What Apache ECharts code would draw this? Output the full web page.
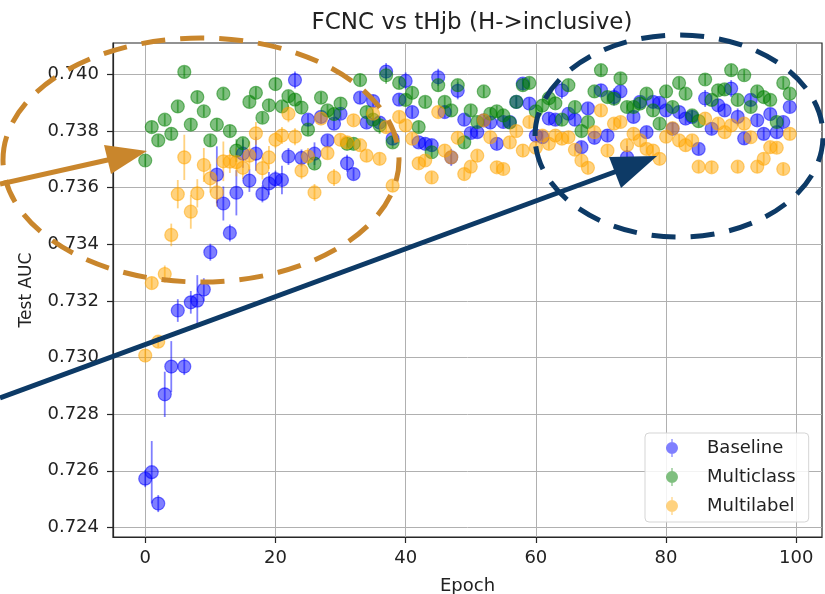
<!DOCTYPE html>
<html>
<head>
<meta charset="utf-8">
<script src="https://cdn.jsdelivr.net/npm/echarts@6/dist/echarts.min.js"></script>
<style>
html,body{margin:0;padding:0;background:#fff;}
#chart{width:825px;height:594px;}
</style>
</head>
<body>
<div id="chart"></div>
<script>
const titleText = 'FCNC vs tHjb (H->inclusive)';
const seriesNames = ['Baseline', 'Multiclass', 'Multilabel'];
const xTicks = [0, 20, 40, 60, 80, 100];
const yTicks = [0.724, 0.726, 0.728, 0.730, 0.732, 0.734, 0.736, 0.738, 0.740];
const epochs = Array.from({length: 100}, (_, i) => i);

const baseline = [
0.72572,0.72595,0.72484,0.72870,0.72968,0.73166,0.72968,0.73195,0.73201,0.73240,
0.73372,0.73646,0.73544,0.73440,0.73582,0.73720,0.73625,0.73720,0.73578,0.73615,
0.73630,0.73627,0.73710,0.73980,0.73705,0.73840,0.73720,0.73850,0.73767,0.73826,
0.73861,0.73686,0.73648,0.73918,0.73830,0.73906,0.73830,0.74010,0.73773,0.73911,
0.73977,0.73867,0.73760,0.73755,0.73750,0.73990,0.73867,0.73707,0.73942,0.73840,
0.73793,0.73796,0.73838,0.73830,0.73755,0.73832,0.73832,0.73903,0.73968,0.73897,
0.73784,0.73778,0.73844,0.73840,0.73944,0.73861,0.73840,0.73743,0.73880,0.73776,
0.73944,0.73784,0.73920,0.73940,0.73707,0.73850,0.73903,0.73796,0.73903,0.73900,
0.73873,0.73808,0.73867,0.73844,0.73850,0.73737,0.73915,0.73808,0.73891,0.73873,
0.73950,0.73850,0.73774,0.73910,0.73838,0.73790,0.73860,0.73796,0.73832,0.73885];
const baselineErr = [
0.0003,0.0011,0.0003,0.0008,0.0009,0.0004,0.0003,0.0004,0.0009,0.0004,
0.0003,0.0010,0.0006,0.0003,0.0008,0.0005,0.0004,0.0006,0.0003,0.0004,
0.0003,0.0005,0.0003,0.0003,0.0003,0.0002,0.0004,0.0002,0.0002,0.0002,
0.0002,0.0003,0.0002,0.0002,0.0002,0.0002,0.0002,0.0003,0.0002,0.0002,
0.0003,0.0002,0.0002,0.0002,0.0002,0.0003,0.0002,0.0003,0.0003,0.0002,
0.0002,0.0002,0.0002,0.0002,0.0002,0.0002,0.0002,0.0002,0.0002,0.0002,
0.0002,0.0002,0.0002,0.0002,0.0003,0.0002,0.0002,0.0002,0.0002,0.0002,
0.0002,0.0002,0.0003,0.0002,0.0004,0.0002,0.0002,0.0002,0.0002,0.0002,
0.0002,0.0002,0.0002,0.0002,0.0002,0.0002,0.0003,0.0002,0.0002,0.0002,
0.0003,0.0003,0.0002,0.0002,0.0002,0.0002,0.0002,0.0002,0.0002,0.0002];

const multiclass = [
0.73696,0.73814,0.73767,0.73840,0.73790,0.73887,0.74009,0.73823,0.73920,0.73870,
0.73767,0.73823,0.73932,0.73800,0.73731,0.73757,0.73903,0.73935,0.73847,0.73891,
0.73966,0.73887,0.73923,0.73911,0.73883,0.73805,0.73685,0.73918,0.73873,0.73860,
0.73897,0.73755,0.73755,0.73980,0.73867,0.73840,0.73820,0.73997,0.73760,0.73970,
0.73910,0.73935,0.73814,0.73903,0.73725,0.73962,0.73903,0.73873,0.73962,0.73760,
0.73873,0.73832,0.73940,0.73861,0.73870,0.73855,0.73830,0.73903,0.73962,0.73970,
0.73870,0.73890,0.73916,0.73898,0.73840,0.73962,0.73885,0.73800,0.73832,0.73940,
0.74015,0.73920,0.73914,0.73986,0.73885,0.73885,0.73897,0.73932,0.73873,0.73826,
0.73940,0.73885,0.73970,0.73932,0.73855,0.73835,0.73982,0.73910,0.73944,0.73947,
0.74015,0.73910,0.73997,0.73885,0.73940,0.73920,0.73910,0.73832,0.73970,0.73932];
const multiclassErr = [
0.0002,0.0002,0.0002,0.0002,0.0002,0.0002,0.0002,0.0002,0.0002,0.0002,
0.0002,0.0002,0.0002,0.0002,0.0004,0.0002,0.0002,0.0002,0.0002,0.0002,
0.0002,0.0002,0.0002,0.0002,0.0002,0.0002,0.0002,0.0002,0.0002,0.0002,
0.0002,0.0002,0.0002,0.0002,0.0002,0.0002,0.0003,0.0003,0.0002,0.0002,
0.0002,0.0002,0.0002,0.0002,0.0002,0.0002,0.0002,0.0002,0.0002,0.0002,
0.0002,0.0002,0.0002,0.0002,0.0002,0.0002,0.0002,0.0002,0.0002,0.0002,
0.0002,0.0002,0.0002,0.0002,0.0002,0.0002,0.0002,0.0002,0.0002,0.0002,
0.0002,0.0002,0.0002,0.0002,0.0002,0.0002,0.0002,0.0002,0.0002,0.0002,
0.0002,0.0002,0.0002,0.0002,0.0002,0.0002,0.0002,0.0002,0.0002,0.0002,
0.0002,0.0002,0.0002,0.0002,0.0002,0.0002,0.0002,0.0002,0.0002,0.0002];

const multilabel = [
0.73007,0.73263,0.73056,0.73295,0.73433,0.73577,0.73707,0.73515,0.73580,0.73680,
0.73633,0.73583,0.73693,0.73692,0.73690,0.73670,0.73713,0.73792,0.73669,0.73707,
0.73769,0.73784,0.73861,0.73780,0.73660,0.73710,0.73583,0.73844,0.73722,0.73636,
0.73769,0.73760,0.73838,0.73750,0.73713,0.73861,0.73702,0.73814,0.73607,0.73850,
0.73820,0.73773,0.73686,0.73696,0.73636,0.73867,0.73731,0.73707,0.73776,0.73648,
0.73674,0.73713,0.73838,0.73778,0.73672,0.73666,0.73760,0.73800,0.73731,0.73832,
0.73741,0.73784,0.73755,0.73784,0.73773,0.73778,0.73734,0.73696,0.73670,0.73796,
0.73873,0.73731,0.73826,0.73832,0.73750,0.73790,0.73767,0.73737,0.73731,0.73702,
0.73780,0.73810,0.73767,0.73750,0.73767,0.73674,0.73844,0.73672,0.73826,0.73796,
0.73820,0.73674,0.73826,0.73778,0.73674,0.73702,0.73743,0.73741,0.73666,0.73790];
const multilabelErr = [
0.0002,0.0002,0.0002,0.0003,0.0004,0.0005,0.0008,0.0006,0.0005,0.0006,
0.0005,0.0005,0.0007,0.0004,0.0005,0.0004,0.0005,0.0004,0.0004,0.0004,
0.0003,0.0003,0.0003,0.0003,0.0003,0.0003,0.0003,0.0002,0.0002,0.0003,
0.0002,0.0002,0.0002,0.0002,0.0002,0.0002,0.0002,0.0002,0.0002,0.0002,
0.0002,0.0002,0.0002,0.0002,0.0002,0.0002,0.0002,0.0002,0.0002,0.0002,
0.0002,0.0002,0.0002,0.0002,0.0002,0.0002,0.0002,0.0002,0.0002,0.0002,
0.0002,0.0002,0.0002,0.0002,0.0002,0.0002,0.0002,0.0002,0.0002,0.0002,
0.0002,0.0002,0.0002,0.0002,0.0002,0.0002,0.0002,0.0002,0.0002,0.0002,
0.0002,0.0002,0.0002,0.0002,0.0002,0.0002,0.0002,0.0002,0.0002,0.0002,
0.0002,0.0002,0.0002,0.0002,0.0002,0.0002,0.0002,0.0002,0.0002,0.0002];

const colors = ['rgba(0,0,255,0.5)', 'rgba(0,128,0,0.5)', 'rgba(255,165,0,0.5)'];
const FONT = 'DejaVu Sans';

const chart = echarts.init(document.getElementById('chart'), null, {renderer: 'canvas'});

function buildSeries(name, vals, errs, color) {
  return [
    {
      name: name + ' err',
      type: 'custom',
      data: epochs.map((e, i) => [e, vals[i], errs[i]]),
      renderItem: function (params, api) {
        const x = api.value(0), y = api.value(1), er = api.value(2);
        const p1 = api.coord([x, y - er]);
        const p2 = api.coord([x, y + er]);
        return {
          type: 'line',
          shape: {x1: p1[0], y1: p1[1], x2: p2[0], y2: p2[1]},
          style: {stroke: color, lineWidth: 1.8}
        };
      },
      silent: true
    },
    {
      name: name,
      type: 'scatter',
      data: epochs.map((e, i) => [e, vals[i]]),
      symbol: 'circle',
      symbolSize: 13,
      itemStyle: {color: color, borderColor: color, borderWidth: 1.2, opacity: 1}
    }
  ];
}

const legendIcon = 'path://M6,3 A6,6 0 1 1 5.99,3 Z M5.4,0 H6.6 V18 H5.4 Z M35.99,9 L36,9 L36,9.01 Z';

const option = {
  animation: false,
  backgroundColor: '#ffffff',
  title: {
    text: titleText,
    left: 467,
    textAlign: 'center',
    top: 7,
    textStyle: {fontFamily: FONT, fontSize: 23, fontWeight: 'normal', color: '#222'}
  },
  grid: {
    left: 113, right: 3, top: 43, bottom: 57,
    outerBoundsMode: 'none',
    containLabel: false,
    show: true, borderColor: '#262626', borderWidth: 1.2, backgroundColor: 'transparent'
  },
  legend: {
    data: seriesNames,
    orient: 'vertical',
    left: 645, top: 433,
    padding: [6, 13, 7, 21],
    itemWidth: 36, itemHeight: 18, itemGap: 11,
    icon: legendIcon,
    itemStyle: {borderWidth: 0},
    backgroundColor: 'rgba(255,255,255,0.85)',
    borderColor: '#d5d5d5', borderWidth: 1, borderRadius: 4,
    textStyle: {fontFamily: FONT, fontSize: 18, color: '#222'}
  },
  xAxis: {
    type: 'value',
    min: -4.95, max: 103.95,
    name: 'Epoch', nameLocation: 'middle', nameGap: 40,
    nameTextStyle: {fontFamily: FONT, fontSize: 18, color: '#222'},
    axisLine: {show: true, onZero: false, lineStyle: {color: '#262626', width: 1.2}},
    axisTick: {show: true, inside: false, length: 6, customValues: xTicks, lineStyle: {color: '#262626', width: 1.2}},
    axisLabel: {customValues: xTicks, margin: 12, fontFamily: FONT, fontSize: 18, color: '#222'},
    splitLine: {show: true, lineStyle: {color: '#b0b0b0', width: 1}}
  },
  yAxis: {
    type: 'value',
    min: 0.72366, max: 0.74111,
    name: 'Test AUC', nameLocation: 'middle', nameGap: 78, nameRotate: 90,
    nameTextStyle: {fontFamily: FONT, fontSize: 17, color: '#222'},
    axisLine: {show: true, onZero: false, lineStyle: {color: '#262626', width: 1.2}},
    axisTick: {show: true, inside: false, length: 6, customValues: yTicks, lineStyle: {color: '#262626', width: 1.2}},
    axisLabel: {customValues: yTicks, margin: 14, fontFamily: FONT, fontSize: 18, color: '#222',
      formatter: v => v.toFixed(3)},
    splitLine: {show: true, lineStyle: {color: '#b0b0b0', width: 1}}
  },
  series: [].concat(
    buildSeries(seriesNames[0], baseline, baselineErr, colors[0]),
    buildSeries(seriesNames[1], multiclass, multiclassErr, colors[1]),
    buildSeries(seriesNames[2], multilabel, multilabelErr, colors[2])
  ),
  graphic: [
    {type: 'ellipse', z: 100, shape: {cx: 201, cy: 160, rx: 198, ry: 122},
     style: {fill: null, stroke: '#C9862C', lineWidth: 5, lineDash: [24, 15]}},
    {type: 'ellipse', z: 100, shape: {cx: 679, cy: 136, rx: 144, ry: 101},
     style: {fill: null, stroke: '#0D3A66', lineWidth: 5, lineDash: [24, 15]}},
    {type: 'line', z: 100, shape: {x1: 0, y1: 184, x2: 112, y2: 159},
     style: {stroke: '#C9862C', lineWidth: 5}},
    {type: 'polygon', z: 100, shape: {points: [[147, 151], [104, 145], [111, 174]]},
     style: {fill: '#C9862C'}},
    {type: 'line', z: 100, shape: {x1: 0, y1: 398, x2: 620, y2: 170},
     style: {stroke: '#0D3A66', lineWidth: 5}},
    {type: 'polygon', z: 100, shape: {points: [[657, 156], [609, 157], [621, 188]]},
     style: {fill: '#0D3A66'}}
  ]
};
chart.setOption(option);
</script>
</body>
</html>
